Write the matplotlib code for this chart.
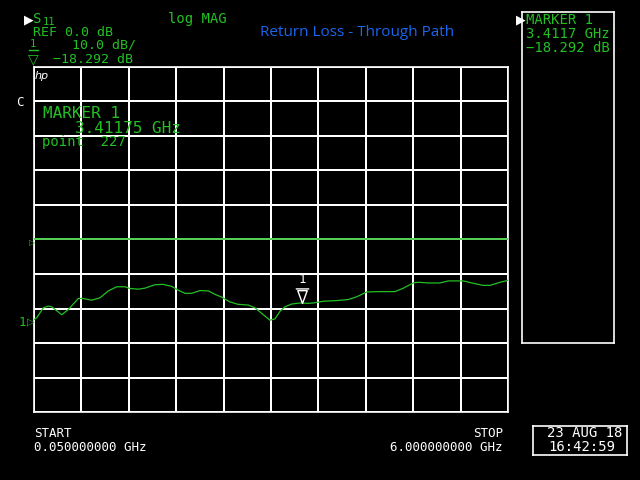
import numpy as np
import matplotlib
matplotlib.use("Agg")
import matplotlib.pyplot as plt
from matplotlib.path import Path

# ---- data ----
freq_ghz = [0.05, 0.084, 0.167, 0.230, 0.272, 0.398, 0.481, 0.606, 0.669, 0.774,
            0.878, 0.983, 1.088, 1.192, 1.255, 1.359, 1.443, 1.569, 1.673, 1.779,
            1.861, 1.946, 2.030, 2.134, 2.238, 2.322, 2.406, 2.510, 2.615, 2.740,
            2.824, 2.928, 3.012, 3.075, 3.138, 3.201, 3.285, 3.389, 3.493, 3.556,
            3.682, 3.850, 3.995, 4.101, 4.227, 4.393, 4.582, 4.686, 4.811, 4.874,
            4.999, 5.146, 5.251, 5.439, 5.565, 5.690, 5.774, 5.900, 5.991, 6.0]
s11_db = [-23.2, -22.7, -19.8, -19.3, -19.5, -21.8, -20.3, -17.1, -17.1, -17.6,
          -16.9, -14.9, -13.7, -13.7, -14.2, -14.4, -14.1, -13.1, -13.0, -13.6,
          -14.7, -15.6, -15.6, -14.8, -14.9, -15.9, -16.7, -18.1, -18.8, -19.0,
          -19.8, -21.8, -23.4, -23.0, -20.8, -19.5, -18.7, -18.4, -18.5, -18.4,
          -17.9, -17.7, -17.4, -16.6, -15.2, -15.1, -15.1, -14.1, -12.6, -12.4,
          -12.6, -12.6, -12.0, -12.0, -12.7, -13.3, -13.3, -12.4, -11.9, -11.8]
start_ghz, stop_ghz = 0.05, 6.0
ref_db, scale_db = 0.0, 10.0
marker_ghz, marker_db = 3.41175, -18.292

GREEN = '#22c022'
BLUE = '#1a66ee'
MONO = 'DejaVu Sans Mono'

fig = plt.figure(figsize=(6.4, 4.8), dpi=100, facecolor='black')
W, H = 640.0, 480.0

def T(x, y, s, color=GREEN, size=10, ha='left', **kw):
    kw.setdefault('family', MONO)
    return fig.text(x / W, 1 - y / H, s, color=color, fontsize=size, ha=ha,
                    va='baseline', **kw)

# ---- main graticule ----
ax = fig.add_axes([34 / W, 1 - 412 / H, 474 / W, 345 / H], facecolor='black')
ax.set_xlim(start_ghz, stop_ghz)
ax.set_ylim(ref_db - 5 * scale_db, ref_db + 5 * scale_db)
ax.set_xticks(np.linspace(start_ghz, stop_ghz, 11))
ax.set_yticks(np.arange(ref_db - 5 * scale_db, ref_db + 5 * scale_db + 1, scale_db))
ax.grid(True, color='white', lw=1.2, antialiased=False)
ax.tick_params(length=0, labelbottom=False, labelleft=False)
for sp in ax.spines.values():
    sp.set_color('white')
    sp.set_linewidth(1.2)

ax.axhline(ref_db, color=GREEN, lw=1.1, zorder=3)
ax.plot(freq_ghz, s11_db, color=GREEN, lw=0.9, zorder=4)

# marker 1 on trace
mpath = Path([(-0.35, 0.95), (0.35, 0.95), (0, 0), (-0.35, 0.95),
              (-0.5, 1.08), (0.5, 1.08)],
             [Path.MOVETO, Path.LINETO, Path.LINETO, Path.CLOSEPOLY,
              Path.MOVETO, Path.LINETO])
ax.plot([marker_ghz], [marker_db], marker=mpath, ms=21, mfc='none',
        mec='white', mew=1.0, ls='none', zorder=6)
ax.annotate('1', xy=(marker_ghz, marker_db), xytext=(0, 12),
            textcoords='offset points', ha='center', va='bottom',
            color='white', fontsize=9, family=MONO)

# ---- left markers ----
T(29, 245, '▷', size=6, family='DejaVu Sans')
T(19, 326, '1', size=9)
T(27, 325, '▷', size=7, family='DejaVu Sans')

# ---- header ----
T(24, 23, '▶', color='white', size=9, family='DejaVu Sans')
T(33, 23, 'S', size=10)
T(43, 25, '11', size=7.5)
T(168, 23, 'log MAG', size=10)
T(33, 36, 'REF 0.0 dB', size=9.5)
T(30, 47, '1', size=7.5)
fig.add_artist(plt.Line2D([29 / W, 38 / W], [1 - 50 / H, 1 - 50 / H],
                          color=GREEN, lw=1))
T(28, 63, '▽', size=10, family='DejaVu Sans')
T(72, 48, '10.0 dB/', size=9.5)
T(53, 63, '\u221218.292 dB', size=9.5)
T(357, 36, 'Return Loss - Through Path', color=BLUE, size=11, ha='center',
  family='Open Sans')

T(35, 79, 'hp', color='white', size=8, family='DejaVu Sans', style='italic')
T(16, 106, 'C', color='white', size=9)
T(43, 118, 'MARKER 1', size=11.5)
T(75, 133, '3.41175 GHz', size=11.5)
T(42, 146, 'point  227', size=10)

# ---- right marker panel ----
axr = fig.add_axes([522 / W, 1 - 343 / H, 92 / W, 331 / H], facecolor='black')
axr.set_xticks([]); axr.set_yticks([])
for sp in axr.spines.values():
    sp.set_color('white'); sp.set_linewidth(1.2)
T(516, 23, '▶', color='white', size=9, family='DejaVu Sans')
for yb, s in [(24, 'MARKER 1'), (38, '3.4117 GHz'), (52, '\u221218.292 dB')]:
    axr.text(526 / W, 1 - yb / H, s, transform=fig.transFigure, color=GREEN,
             fontsize=10, family=MONO, va='baseline', clip_on=True)

# ---- footer ----
T(34, 437, 'START', color='white', size=9)
T(34, 451, '0.050000000 GHz', color='white', size=9)
T(503, 437, 'STOP', color='white', size=9, ha='right')
T(503, 451, '6.000000000 GHz', color='white', size=9, ha='right')
axd = fig.add_axes([533 / W, 1 - 455 / H, 94 / W, 29 / H], facecolor='black')
axd.set_xticks([]); axd.set_yticks([])
for sp in axd.spines.values():
    sp.set_color('white'); sp.set_linewidth(1.2)
for xb, yb, s in [(547, 437, '23 AUG 18'), (548, 451, '16:42:59')]:
    axd.text(xb / W, 1 - yb / H, s, transform=fig.transFigure, color='white',
             fontsize=10, family=MONO, va='baseline', clip_on=True)

fig.savefig('out.png', dpi=100, facecolor='black')
